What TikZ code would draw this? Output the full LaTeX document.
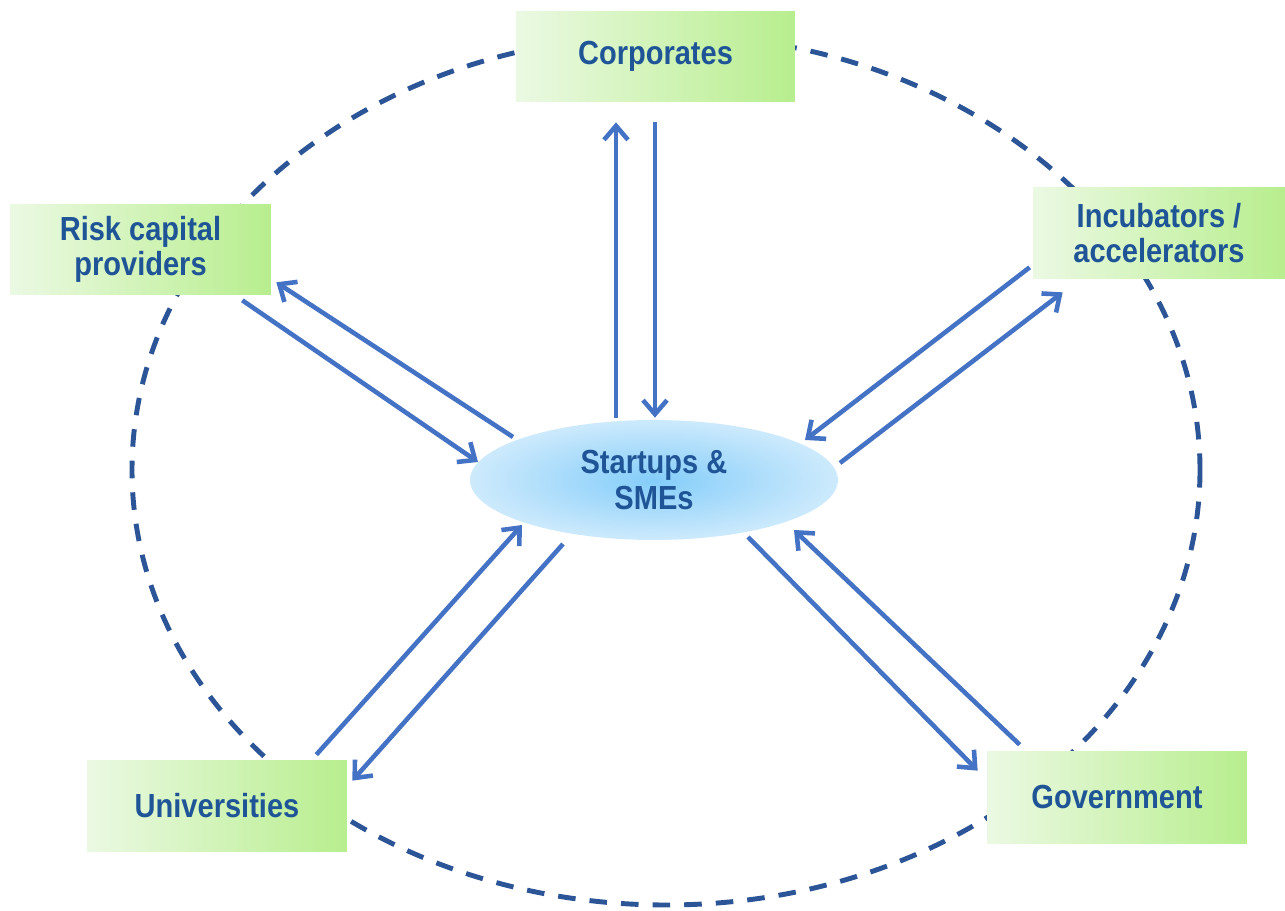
\documentclass[tikz,border=0pt]{standalone}
\usepackage{fontspec}
\newfontfamily\labelfont[FakeStretch=0.87]{Liberation Sans}
\usetikzlibrary{arrows.meta,calc,shapes.geometric}
\definecolor{txtblue}{HTML}{1F5597}
\definecolor{arrowblue}{HTML}{4472C4}
\definecolor{ringblue}{HTML}{2C5597}
\definecolor{greenlight}{HTML}{EBF9E3}
\definecolor{greendark}{HTML}{B8EE8E}
\definecolor{bluecore}{HTML}{84CDFA}
\definecolor{blueedge}{HTML}{CDEAFC}

\begin{document}
\begin{tikzpicture}[x=0.02cm, y=-0.02cm,
  main/.style = {left color=greenlight, right color=greendark, inner sep=0pt, align=center, text=txtblue, font=\labelfont\bfseries\fontsize{19}{20}\selectfont},
  hub/.style = {ellipse, inner color=bluecore, outer color=blueedge, inner sep=0pt, minimum width=7.36cm, minimum height=2.4cm, align=center, text=txtblue, font=\labelfont\bfseries\fontsize{19}{20}\selectfont},
  link/.style = {arrowblue, line width=2.6pt, -{Straight Barb[length=2.8mm,width=4.8mm]}}]
\useasboundingbox (0,0) rectangle (1285,911);

% dashed ring
\draw[ringblue, line width=2.8pt, dash pattern=on 10pt off 8pt] (666,470) ellipse [x radius=534, y radius=435];

\node[hub] (smes) at (654,480) {Startups \&\\SMEs};

\node[main, minimum width=5.58cm, minimum height=1.82cm] (corp) at (655.5,56.5) {Corporates};
\node[main, minimum width=5.22cm, minimum height=1.82cm] (risk) at (140.5,249.5) {Risk capital\\providers};
\node[main, minimum width=5.04cm, minimum height=1.84cm] (incub) at (1159,233) {Incubators /\\accelerators};
\node[main, minimum width=5.2cm, minimum height=1.84cm] (univ) at (217,806) {Universities};
\node[main, minimum width=5.2cm, minimum height=1.86cm] (gov) at (1117,797.5) {Government};

\draw[link] ($(smes.north)+(-38,-2)$) -- ($(corp.south)+(-39.5,20)$);
\draw[link] ($(corp.south)+(-0.5,20)$) -- ($(smes.north)+(1,-2)$);

\draw[link] ($(smes)+(-141,-43)$) -- ($(risk.south east)+(5,-13)$);
\draw[link] ($(risk.south east)+(-29,5)$) -- ($(smes)+(-176,-18)$);

\draw[link] ($(incub.south west)+(-3,-12)$) -- ($(smes)+(151,-40)$);
\draw[link] ($(smes)+(186,-17)$) -- ($(incub.south west)+(30,13)$);

\draw[link] ($(univ.north east)+(-31,-5)$) -- ($(smes)+(-132,45)$);
\draw[link] ($(smes)+(-91,64)$) -- ($(univ.north east)+(5,21)$);

\draw[link] ($(smes)+(94,57)$) -- ($(gov.north west)+(-9,20)$);
\draw[link] ($(gov.north west)+(33,-6)$) -- ($(smes)+(140,50)$);

\end{tikzpicture}
\end{document}
